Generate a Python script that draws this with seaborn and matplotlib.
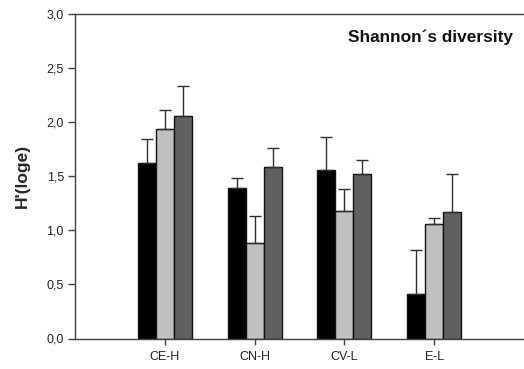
import matplotlib
matplotlib.use("Agg")
import matplotlib.pyplot as plt
import seaborn as sns
import pandas as pd

# Shannon diversity H'(loge) per site, three sample groups
sites = ["CE-H", "CN-H", "CV-L", "E-L"]
groups = ["A", "B", "C"]
mean_a = [1.62, 1.39, 1.56, 0.41]
mean_b = [1.94, 0.88, 1.18, 1.06]
mean_c = [2.06, 1.59, 1.52, 1.17]
err_a = [0.22, 0.09, 0.30, 0.41]
err_b = [0.17, 0.25, 0.20, 0.05]
err_c = [0.27, 0.17, 0.13, 0.35]
y_ticks = [0.0, 0.5, 1.0, 1.5, 2.0, 2.5, 3.0]
y_tick_labels = ["0,0", "0,5", "1,0", "1,5", "2,0", "2,5", "3,0"]
colors = ["#000000", "#c0c0c0", "#606060"]

means = [mean_a, mean_b, mean_c]
errs = [err_a, err_b, err_c]
rows = []
for g, m, e in zip(groups, means, errs):
    for s, mv, ev in zip(sites, m, e):
        rows.append({"site": s, "group": g, "H": mv, "err": ev})
df = pd.DataFrame(rows)

sns.set_style("white")
plt.rcParams["font.family"] = ["Liberation Sans", "DejaVu Sans"]

fig = plt.figure(figsize=(5.24, 3.69), dpi=100)
ax = fig.add_axes([75 / 524, 1 - 338.5 / 369, 449 / 524, 324.5 / 369])

sns.barplot(data=df, x="site", y="H", hue="group", order=sites,
            hue_order=groups, palette=colors, width=0.6, errorbar=None,
            edgecolor="#111111", linewidth=1.0, legend=False, ax=ax,
            saturation=1)

# seaborn draws bars hue by hue, each in site order: same order as df rows
for patch, err in zip(ax.patches, df["err"]):
    xc = patch.get_x() + patch.get_width() / 2
    h = patch.get_height()
    ax.errorbar(xc, h, yerr=[[0], [err]], fmt="none",
                ecolor="#303030", elinewidth=1.0, capsize=4.5,
                capthick=1.0, zorder=1)

ax.set_xlim(-1.0, 4.0)
ax.set_ylim(0, 3.0)
ax.set_yticks(y_ticks)
ax.set_yticklabels(y_tick_labels)
ax.set_xlabel("")
ax.set_ylabel("H'(loge)", fontsize=12.5, fontweight="bold", va="center")
ax.yaxis.set_label_coords(-0.118, 0.5)

for side in ["left", "top", "bottom"]:
    ax.spines[side].set_visible(True)
    ax.spines[side].set_color("#404040")
    ax.spines[side].set_linewidth(1.0)
ax.spines["right"].set_visible(False)

ax.tick_params(axis="y", direction="out", length=5, width=1, color="#404040",
               labelsize=9, labelcolor="#222222", pad=3, left=True)
ax.tick_params(axis="x", direction="out", length=4, width=1, color="#404040",
               labelsize=9, labelcolor="#222222", pad=5, bottom=True)

ax.text(0.9755, 0.929, "Shannon\u00b4s diversity", transform=ax.transAxes,
        ha="right", va="center", fontsize=12.4, fontweight="bold",
        color="#111111")

fig.savefig("out.png", dpi=100)
